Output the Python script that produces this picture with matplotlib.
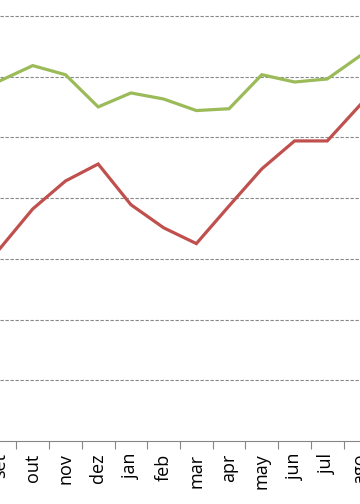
import numpy as np
from matplotlib import pyplot as plt

plt.rcParams['savefig.bbox'] = 'standard'

months = ['set', 'out', 'nov', 'dez', 'jan', 'feb', 'mar', 'apr', 'may', 'jun', 'jul', 'ago']
green = [59.3, 61.8, 60.3, 55.0, 57.3, 56.3, 54.4, 54.7, 60.3, 59.1, 59.6, 63.4]
red = [31.7, 38.2, 42.8, 45.6, 38.9, 35.1, 32.5, 38.7, 44.8, 49.4, 49.4, 55.3]

fig = plt.figure(figsize=(3.6, 5.04), dpi=100)
ax = fig.add_axes([0, 0.125, 1, 0.875])

ind = np.arange(len(months))
ax.plot(ind, green, color='#9BBB59', lw=2.3, solid_joinstyle='miter')
ax.plot(ind, red, color='#C0504D', lw=2.3, solid_joinstyle='miter')

ax.set_xlim(0.118, 10.74)
ax.set_ylim(0, 72.6)

ax.set_yticks(np.arange(10, 80, 10))
ax.yaxis.grid(True, color='#888888', linestyle=(0, (3, 1.5)), lw=0.8)
ax.tick_params(axis='y', left=False, labelleft=False)

ax.set_xticks(ind)
ax.set_xticklabels(months, rotation=90, fontsize=13, family='Open Sans')
ax.set_xticks(ind[:-1] + 0.5, minor=True)
ax.tick_params(axis='x', which='major', length=0, pad=9)
ax.tick_params(axis='x', which='minor', length=6, color='#868686', width=0.8)

for s in ['top', 'left', 'right']:
    ax.spines[s].set_visible(False)
ax.spines['bottom'].set_color('#868686')
ax.spines['bottom'].set_linewidth(0.8)

fig.savefig('out.png', dpi=100)
